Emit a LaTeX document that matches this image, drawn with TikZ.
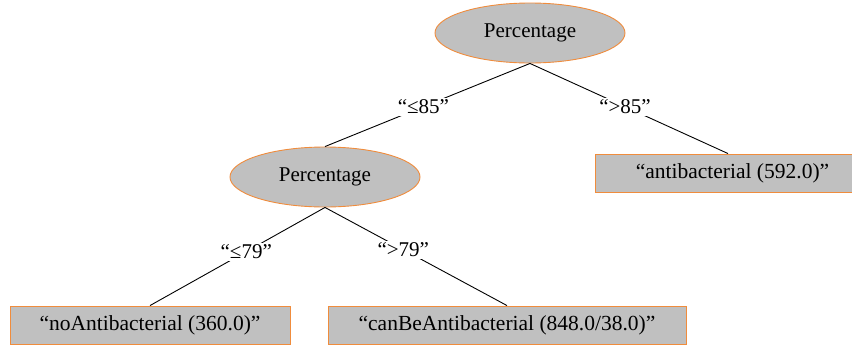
\documentclass[tikz,border=0pt]{standalone}
\usepackage{fontspec}
\setmainfont{Liberation Serif}
\usetikzlibrary{shapes.geometric}
\definecolor{boxfill}{RGB}{192,192,192}
\definecolor{boxline}{RGB}{240,140,60}
\tikzset{
  x=1pt, y=-1pt,
  attr/.style={ellipse, draw=boxline, fill=boxfill, line width=0.9pt,
    minimum width=190pt, minimum height=60pt, inner sep=0pt, font=\fontsize{21}{24}\selectfont},
  leaf/.style={rectangle, draw=boxline, fill=boxfill, line width=0.9pt,
    minimum height=38pt, inner sep=0pt, font=\fontsize{21.5}{24}\selectfont},
  edge/.style={draw=black, line width=0.9pt},
  elabel/.style={fill=white, inner sep=2pt, font=\fontsize{21}{24}\selectfont},
}
\begin{document}
\begin{tikzpicture}
\useasboundingbox (0,0) rectangle (852,349);
\node[attr] (root) at (530,33) {Percentage};
\node[attr] (mid) at (325,177) {Percentage};
\node[leaf, minimum width=261pt] (anti) at (725.5,173) {\hspace*{14pt}“antibacterial (592.0)”};
\node[leaf, minimum width=280pt] (noanti) at (150,325) {“noAntibacterial (360.0)”};
\node[leaf, minimum width=358pt] (canbe) at (507,325) {“canBeAntibacterial (848.0/38.0)”};
\path[edge] (root.south) -- node[elabel, pos=0.52] {“≤85”} (mid.north);
\path[edge] (root.south) -- node[elabel, pos=0.48] {“>85”} (anti.north -| 728,0);
\path[edge] (mid.south) -- node[elabel, pos=0.45] {“≤79”} (noanti.north);
\path[edge] (mid.south) -- node[elabel, pos=0.43] {“>79”} (canbe.north);
\end{tikzpicture}
\end{document}
